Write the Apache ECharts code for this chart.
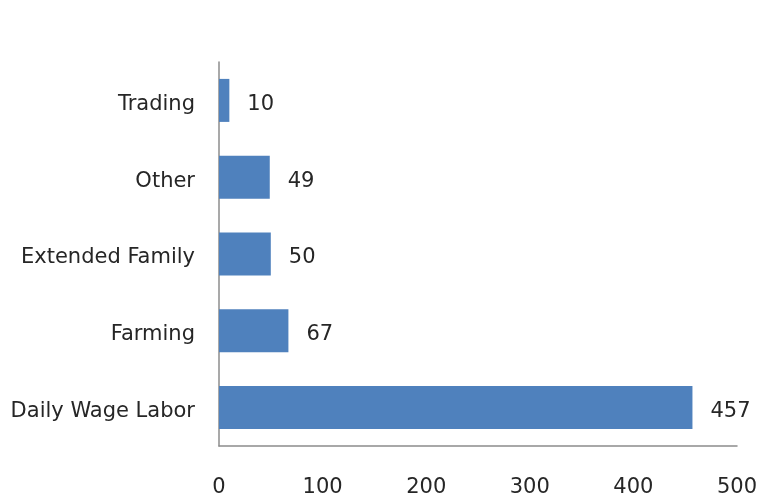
<!DOCTYPE html>
<html><head><meta charset="utf-8">
<script src="https://cdn.jsdelivr.net/npm/echarts@6/dist/echarts.min.js"></script>
<style>html,body{margin:0;padding:0;background:#fff}#c{width:765px;height:497px}</style>
</head><body><div id="c"></div>
<script>
const categories = ["Daily Wage Labor", "Farming", "Extended Family", "Other", "Trading"];
const values = [457, 67, 50, 49, 10];
const xTicks = [0, 100, 200, 300, 400, 500];

const font = "'DejaVu Sans', 'Open Sans', sans-serif";
const chart = echarts.init(document.getElementById('c'));
chart.setOption({
  animation: false,
  grid: {left: 219, right: 28, top: 62, bottom: 51, containLabel: false, outerBoundsMode: 'none'},
  xAxis: {
    type: 'value', min: xTicks[0], max: xTicks[xTicks.length-1], interval: 100,
    axisLine: {show: true, lineStyle: {color: '#8c8c8c', width: 1.5}},
    axisTick: {show: false},
    splitLine: {show: false},
    axisLabel: {color: '#262626', fontSize: 21, fontFamily: font, margin: 31}
  },
  yAxis: {
    type: 'category', data: categories,
    axisLine: {show: true, lineStyle: {color: '#8c8c8c', width: 1.5}},
    axisTick: {show: false},
    axisLabel: {
      color: '#262626', fontSize: 21, fontFamily: font, margin: 24,
      formatter: v => '{a|' + v + '}',
      rich: {a: {color: '#262626', fontSize: 21, fontFamily: font, padding: [8, 0, 0, 0]}}
    }
  },
  series: [{
    type: 'bar', data: values, barCategoryGap: '44%',
    itemStyle: {color: '#4f81bd'},
    label: {show: true, position: 'right', distance: 18, color: '#262626', fontSize: 21, fontFamily: font, offset: [0, 4]}
  }]
});
</script></body></html>
